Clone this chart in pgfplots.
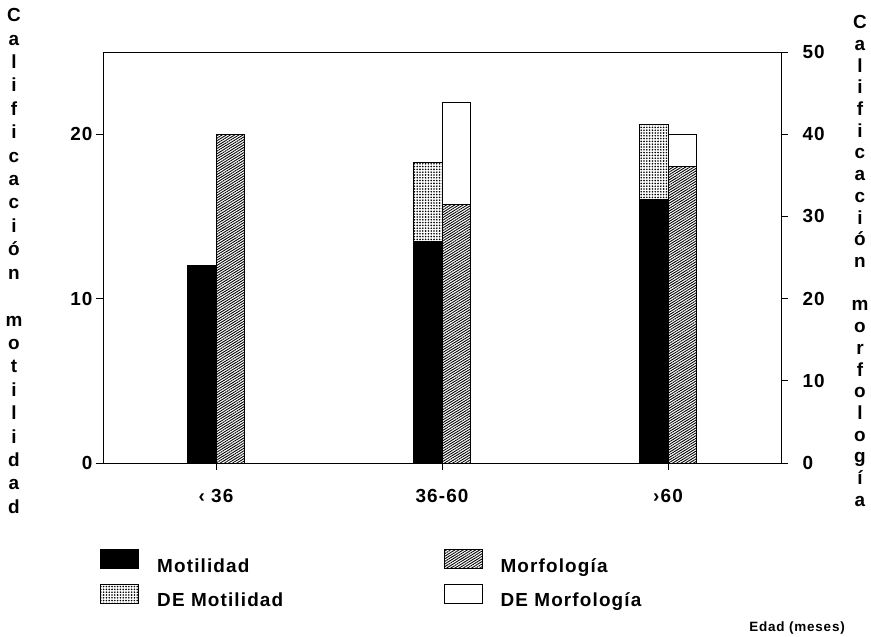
\documentclass[border=0pt]{standalone}
\usepackage{pgfplots}
\pgfplotsset{compat=1.18}
\usepackage{fontspec}
\setmainfont{Liberation Sans}[LetterSpace=6]
\usetikzlibrary{patterns.meta}
\newcommand\tf{\fontsize{19}{23}\selectfont\bfseries}
\tikzset{
  hatchp/.style={draw=black, line width=1bp, pattern={Lines[angle=32,distance=2.2bp,line width=0.9bp]}},
  dotp/.style={draw=black, line width=1bp, pattern={Dots[radius=0.9bp,distance=2.8bp]}},
  blackp/.style={draw=black, line width=1bp, fill=black},
  whitep/.style={draw=black, line width=1bp, fill=white},
}
\pgfplotsset{
  common/.style={
    at={(0,0)}, anchor=south west,
    scale only axis, width=678bp, height=411bp,
    xmin=-0.5, xmax=2.5, clip=false,
    ybar stacked, bar width=0.128,
    tick align=outside, major tick length=7bp,
    axis line style={line width=0.9bp},
    tick style={line width=0.9bp, black},
    /pgf/number format/assume math mode=true,
    tick label style={font=\tf},
    legend image code/.code={\draw[##1] (0bp,-2.7bp) rectangle (38bp,16.3bp);},
    legend style={draw=none, fill=none, inner sep=0pt, row sep=10bp,
      font=\tf, legend cell align=left, anchor=north west,
      nodes={inner sep=0pt},
      /tikz/every odd column/.append style={column sep=18bp}},
  }
}
\begin{document}
\begin{tikzpicture}
\begin{axis}[common,
  ymin=0, ymax=25, ytick={0,10,20},
  xtick={0,1,2}, xticklabels={‹ 36, 36-60, ›60},
  xtick pos=bottom, ytick pos=left,
  bar shift=-0.064,
  xticklabel style={yshift=-16bp},
  yticklabel style={xshift=0bp},
  legend style={at={(-0.0044,-0.2092)}},
]
\addplot[blackp, forget plot] coordinates {(0,12) (1,13.45) (2,16.05)};
\addplot[dotp, forget plot] coordinates {(0,0) (1,4.85) (2,4.55)};
\addlegendimage{blackp}
\addlegendimage{dotp}
\legend{Motilidad, DE Motilidad}
\node[font=\fontsize{19}{23.5}\selectfont\bfseries, align=center, inner sep=0pt]
  at (rel axis cs:-0.1313,0.4915)
  {C\\a\\l\\i\\f\\i\\c\\a\\c\\i\\ó\\n\\~\\m\\o\\t\\i\\l\\i\\d\\a\\d};
\node[font=\fontsize{19}{21.8}\selectfont\bfseries, align=center, inner sep=0pt]
  at (rel axis cs:1.1165,0.4915)
  {C\\a\\l\\i\\f\\i\\c\\a\\c\\i\\ó\\n\\~\\m\\o\\r\\f\\o\\l\\o\\g\\í\\a};
\node[font=\fontsize{13.5}{16}\selectfont\bfseries, anchor=base east, inner sep=0pt]
  at (rel axis cs:1.0944,-0.411) {Edad (meses)};
\end{axis}
\begin{axis}[common,
  ymin=0, ymax=50, ytick={0,10,20,30,40,50},
  axis x line=none, axis y line*=right,
  bar shift=0.064,
  yticklabel style={xshift=11bp},
  legend style={at={(0.502,-0.2092)}},
]
\addplot[hatchp, forget plot] coordinates {(0,40) (1,31.5) (2,36.1)};
\addplot[whitep, forget plot] coordinates {(0,0) (1,12.3) (2,3.9)};
\addlegendimage{hatchp}
\addlegendimage{whitep}
\legend{Morfología, DE Morfología}
\end{axis}
\pgfresetboundingbox
\path[use as bounding box] (-103bp,-174bp) rectangle (768bp,463bp);
\end{tikzpicture}
\end{document}
